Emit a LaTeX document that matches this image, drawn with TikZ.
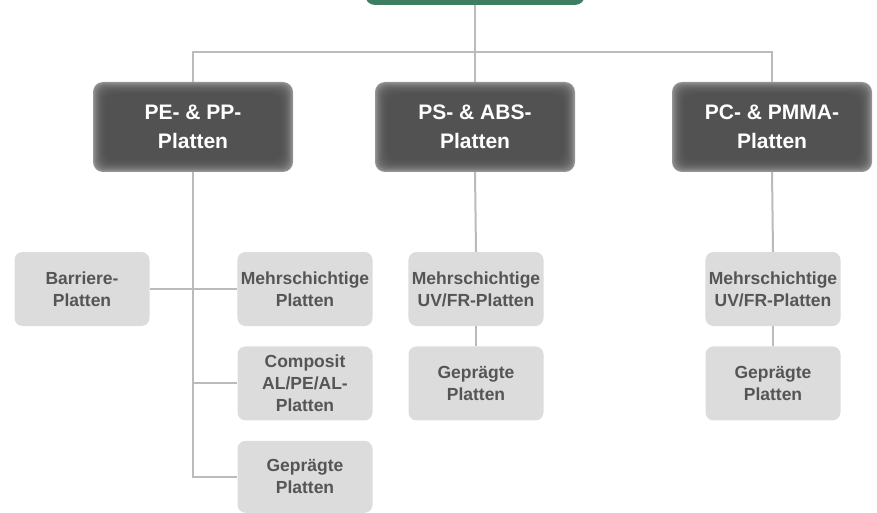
\documentclass[tikz,border=0pt]{standalone}
\usepackage{fontspec}
\setmainfont{Liberation Sans}
\usetikzlibrary{positioning,calc}
\definecolor{PLgreen}{HTML}{3D7D63}
\definecolor{PLdark}{HTML}{4E4E4E}
\definecolor{PLedge}{HTML}{959595}
\definecolor{PLlight}{HTML}{DCDCDC}
\definecolor{PLtext}{HTML}{555555}
\definecolor{PLline}{HTML}{BBBBBB}
\tikzset{
  rootbox/.style={rounded corners=10pt, fill=PLgreen, minimum width=220pt, minimum height=34pt},
  groupbox/.style={rounded corners=10pt, fill=PLedge, minimum width=200pt, minimum height=90pt, align=center, text=white, font=\fontsize{21}{29}\selectfont\bfseries,
    path picture={\foreach \i in {1,...,12}{\fill[PLdark, opacity=0.18, rounded corners=9pt] ($(path picture bounding box.south west)+(\i pt,\i pt)$) rectangle ($(path picture bounding box.north east)-(\i pt,\i pt)$);}}},
  itembox/.style={rounded corners=8pt, fill=PLlight, minimum width=135pt, minimum height=74pt, align=center, text=PLtext, font=\fontsize{17.5}{22}\selectfont\bfseries},
  link/.style={draw=PLline, line width=2pt}
}
\begin{document}
\begin{tikzpicture}[x=1pt, y=-1pt]
  \clip (0,0) rectangle (877,513);
  \node[rootbox] (root) at (475,-12) {};
  \node[groupbox] (pe) at (193,127) {PE- \& PP-\\Platten};
  \node[groupbox] (ps) at (475,127) {PS- \& ABS-\\Platten};
  \node[groupbox] (pc) at (772,127) {PC- \& PMMA-\\Platten};
  % PE column
  \node[itembox] (barr) at (82,289) {Barriere-\\Platten};
  \node[itembox] (pemehr) at (305,289) {Mehrschichtige\\Platten};
  \node[itembox, below=20pt of pemehr] (pecomp) {Composit\\AL/PE/AL-\\Platten};
  \node[itembox, below=20pt of pecomp, minimum height=72pt] (pegepr) {Geprägte\\Platten};
  % PS column
  \node[itembox] (psmehr) at (476,289) {Mehrschichtige\\UV/FR-Platten};
  \node[itembox, below=20pt of psmehr] (psgepr) {Geprägte\\Platten};
  % PC column
  \node[itembox] (pcmehr) at (773,289) {Mehrschichtige\\UV/FR-Platten};
  \node[itembox, below=20pt of pcmehr] (pcgepr) {Geprägte\\Platten};
  % connectors
  \coordinate (bus) at (475,52);
  \draw[link] (root.south) -- (bus);
  \draw[link] (pe.north) |- (bus) -| (pc.north);
  \draw[link] (bus) -- (ps.north);
  \draw[link] (pe.south) -- (pe.south |- pegepr.west) -- (pegepr.west);
  \draw[link] (barr.east) -- (pemehr.west);
  \draw[link] (pe.south |- pecomp.west) -- (pecomp.west);
  \draw[link] (ps.south) -- (psmehr.north); \draw[link] (psmehr.south) -- (psgepr.north);
  \draw[link] (pc.south) -- (pcmehr.north); \draw[link] (pcmehr.south) -- (pcgepr.north);
\end{tikzpicture}
\end{document}
